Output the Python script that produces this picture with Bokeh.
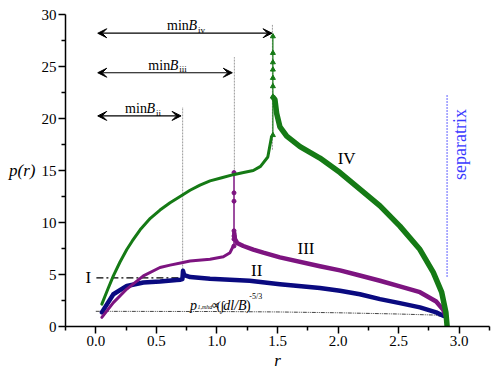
from bokeh.plotting import figure
from bokeh.models import Range1d, FixedTicker, Label, Arrow, VeeHead, ColumnDataSource
from bokeh.embed import file_html
from bokeh.resources import INLINE

# ---------------- data ----------------
x_major = [0.0, 0.5, 1.0, 1.5, 2.0, 2.5, 3.0]
x_minor = [-0.25, 0.25, 0.75, 1.25, 1.75, 2.25, 2.75, 3.25]
y_major = [0, 5, 10, 15, 20, 25, 30]
y_minor = [2.5, 7.5, 12.5, 17.5, 22.5, 27.5]

# curve IV (green)
r_iv_left = [0.05, 0.1, 0.145, 0.2, 0.256, 0.3, 0.366, 0.45, 0.53, 0.613, 0.696, 0.778,
             0.86, 0.943, 1.04, 1.135, 1.22, 1.30, 1.36, 1.42, 1.45]
p_iv_left = [2.15, 3.6, 4.87, 6.2, 7.4, 8.2, 9.3, 10.4, 11.2, 11.9, 12.5, 13.1,
             13.6, 14.0, 14.3, 14.6, 14.8, 15.0, 15.4, 16.3, 18.2]
r_iv_spike = [1.462, 1.462, 1.462, 1.462, 1.462, 1.462, 1.462, 1.462]
p_iv_spike = [18.4, 22.1, 23.1, 23.9, 24.7, 25.4, 26.3, 27.9]
r_iv_right = [1.466, 1.479, 1.493, 1.52, 1.576, 1.686, 1.85, 2.016, 2.18, 2.346, 2.51,
              2.676, 2.786, 2.855, 2.89, 2.9]
p_iv_right = [22.0, 21.8, 20.5, 19.2, 18.3, 17.3, 16.2, 14.8, 13.2, 11.6, 9.65,
              7.4, 5.2, 3.3, 1.36, 0.05]

# curve III (purple)
r_iii_left = [0.05, 0.145, 0.256, 0.393, 0.53, 0.613, 0.72, 0.778, 0.943, 1.053, 1.108, 1.135]
p_iii_left = [0.88, 2.3, 3.6, 4.87, 5.67, 5.9, 6.15, 6.3, 6.47, 6.7, 7.1, 7.74]
r_iii_spike = [1.141, 1.141, 1.141, 1.141, 1.141, 1.141, 1.141]
p_iii_spike = [7.74, 8.4, 8.7, 9.2, 12.05, 12.85, 14.8]
r_iii_right = [1.143, 1.149, 1.17, 1.218, 1.30, 1.383, 1.52, 1.85, 2.016, 2.18, 2.346,
               2.51, 2.676, 2.81, 2.868, 2.89]
p_iii_right = [9.0, 8.4, 8.0, 7.74, 7.4, 7.1, 6.65, 5.8, 5.4, 4.9, 4.4,
               3.85, 3.3, 2.4, 1.6, 1.0]

# curve II (navy)
r_ii = [0.05, 0.145, 0.256, 0.393, 0.53, 0.668, 0.70, 0.715, 0.72, 0.73, 0.78, 0.943,
        1.27, 1.52, 1.85, 2.016, 2.18, 2.346, 2.51, 2.676, 2.81, 2.868]
p_ii = [1.36, 3.1, 3.9, 4.23, 4.33, 4.48, 4.5, 4.55, 5.35, 4.95, 4.75, 4.6,
        4.4, 4.07, 3.7, 3.43, 3.1, 2.63, 2.25, 1.84, 1.36, 1.03]

# reference lines
r_mhd = [0.0, 0.5, 1.0, 1.5, 2.0, 2.5, 2.8, 2.88]
p_mhd = [1.46, 1.45, 1.44, 1.40, 1.32, 1.2, 1.1, 0.9]
r_I = [0.005, 0.70]
p_I = [4.68, 4.68]

guide_r = [0.717, 1.144, 1.458]
guide_bottom = [5.2, 14.8, 17.0]
guide_top = [21.1, 25.9, 29.0]

arrow_r_start = [0.016, 0.016, 0.016]
arrow_r_end = [1.455, 1.127, 0.704]
arrow_p = [28.2, 24.4, 20.25]

sep_r = [2.9, 2.9]
sep_p = [4.8, 22.4]

GREEN = "#157a15"
PURPLE = "#7d1480"
NAVY = "#0a0a80"
SERIF = "Liberation Serif"
AXFONT = "'Liberation Serif', 'Times New Roman', serif"

p = figure(width=492, height=372, output_backend="svg", toolbar_location=None,
           x_range=Range1d(-0.25, 3.25), y_range=Range1d(0, 30),
           min_border_left=65, min_border_right=3, min_border_top=14, min_border_bottom=45)
p.outline_line_color = None
p.xgrid.visible = False
p.ygrid.visible = False
p.background_fill_color = "white"
p.border_fill_color = "white"

p.xaxis.ticker = FixedTicker(ticks=x_major, minor_ticks=x_minor)
p.yaxis.ticker = FixedTicker(ticks=y_major, minor_ticks=y_minor)
p.xaxis.major_label_overrides = {v: f"{v:.1f}" for v in x_major}
p.axis.axis_line_width = 1.5
p.axis.major_tick_line_width = 1.5
p.axis.minor_tick_line_width = 1.5
p.axis.major_tick_out = 7
p.axis.major_tick_in = 0
p.axis.minor_tick_out = 4
p.axis.minor_tick_in = 0
p.axis.major_label_text_font = AXFONT
p.axis.major_label_text_font_size = "15px"
p.axis.major_label_text_color = "black"
p.axis.major_label_standoff = 2
p.axis.axis_label_text_font = AXFONT
p.axis.axis_label_text_font_size = "17px"
p.axis.axis_label_text_font_style = "italic"
p.axis.axis_label_text_color = "black"
p.yaxis.axis_label = "p(r)"
p.yaxis.axis_label_orientation = "horizontal"
p.yaxis.axis_label_standoff = 3
p.xaxis.axis_label = "r"
p.xaxis.axis_label_standoff = 2

# guide lines
p.segment(x0=guide_r, y0=guide_bottom, x1=guide_r, y1=guide_top,
          line_color="#999999", line_width=1, line_dash="2 1")
p.line(sep_r, sep_p, line_color="#3a3aff", line_width=1.6, line_dash="1 2")

# reference lines
p.line(r_mhd, p_mhd, line_color="#444444", line_width=1, line_dash="4 1 1 1 1 1")
p.line(r_I, p_I, line_color="black", line_width=1.3, line_dash="7 3 2 3")

# curves
p.line(r_ii, p_ii, line_color=NAVY, line_width=4.5, line_join="round", line_cap="round")
p.line(r_iii_left, p_iii_left, line_color=PURPLE, line_width=3, line_join="round", line_cap="round")
p.line(r_iii_spike, p_iii_spike, line_color=PURPLE, line_width=1.5)
p.scatter(r_iii_spike, p_iii_spike, marker="circle", size=4, color=PURPLE)
p.line(r_iii_right, p_iii_right, line_color=PURPLE, line_width=4.5, line_join="round", line_cap="round")
p.line(r_iv_left, p_iv_left, line_color=GREEN, line_width=3, line_join="round", line_cap="round")
p.line(r_iv_spike, p_iv_spike, line_color=GREEN, line_width=1.2)
p.scatter(r_iv_spike, p_iv_spike, marker="triangle", size=5, color=GREEN)
p.line(r_iv_right, p_iv_right, line_color=GREEN, line_width=5.5, line_join="round", line_cap="round")

# arrows
asrc = ColumnDataSource(dict(xs=arrow_r_start, xe=arrow_r_end, y=arrow_p))
p.add_layout(Arrow(start=VeeHead(size=9, fill_color="black", line_color="black", line_width=1),
                   end=VeeHead(size=9, fill_color="black", line_color="black", line_width=1),
                   x_start="xs", y_start="y", x_end="xe", y_end="y",
                   line_color="black", line_width=1.2, source=asrc))


def lab(x, y, text, size="14px", style="normal", color="black", dx=0, dy=0,
        align="left", baseline="alphabetic", angle=0.0):
    p.add_layout(Label(x=x, y=y, text=text, x_offset=dx, y_offset=dy,
                       text_font=SERIF, text_font_size=size, text_font_style=style,
                       text_color=color, text_align=align, text_baseline=baseline,
                       angle=angle))


def minb(x, y, sub):
    lab(x, y, "min")
    lab(x, y, "B", style="italic", dx=21.5)
    lab(x, y, sub, size="9px", dx=31, dy=-4)


minb(0.588, 28.93, "iv")
minb(0.434, 25.1, "iii")
minb(0.242, 20.93, "ii")

# p_1,mhd label
mx, my = 0.778, 2.06
lab(mx, my, "p", size="14px", style="italic")
lab(mx, my, "1,mhd", size="6px", style="italic", dx=7.5, dy=-2)
lab(mx, my, "\u221d", size="12px", dx=20.5)
lab(mx, my, "(\u222b", size="13px", dx=26.5)
lab(mx, my, "dl/B", size="14px", style="italic", dx=33.3)
lab(mx, my, ")", size="14px", dx=56)
lab(mx, my, "-5/3", size="8px", dx=59.3, dy=9)

# curve labels
lab(2.071, 16.2, "IV", size="17px", align="center", baseline="middle")
lab(1.735, 7.5, "III", size="17px", align="center", baseline="middle")
lab(1.328, 5.35, "II", size="17px", align="center", baseline="middle")
lab(-0.061, 4.7, "I", size="17px", align="center", baseline="middle")
lab(3.006, 17.5, "separatrix", size="18px", color="#3a3aff", align="center",
    baseline="middle", angle=1.5708)

open("out.html", "w").write(file_html(p, INLINE))
